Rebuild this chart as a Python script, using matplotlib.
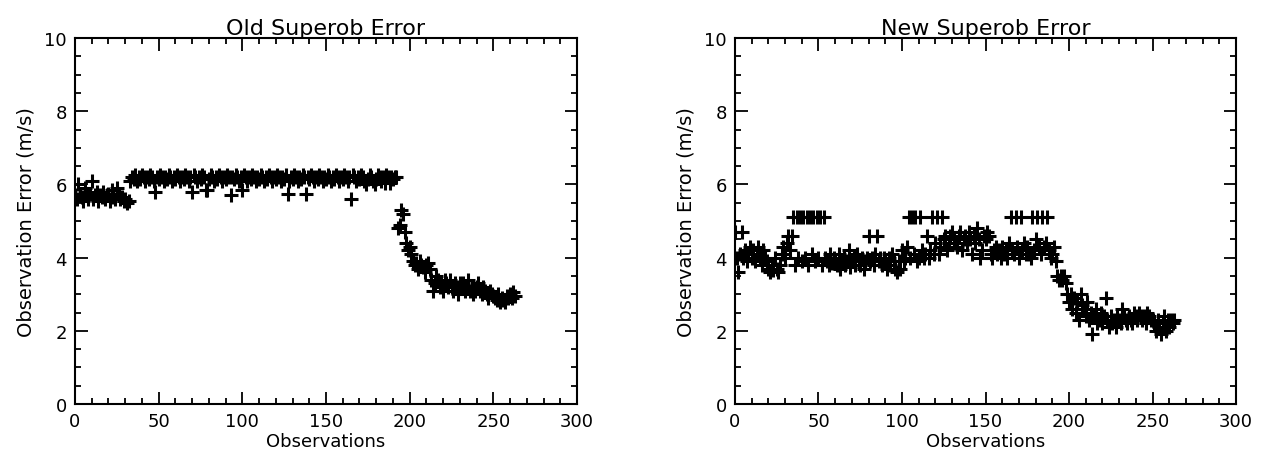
import numpy as np
import matplotlib
matplotlib.use("Agg")
import matplotlib.pyplot as plt
from matplotlib.ticker import MultipleLocator

titles = ["Old Superob Error", "New Superob Error"]
xlabel = "Observations"
ylabel = "Observation Error (m/s)"

old_err = [
    5.70, 5.60, 6.00, 5.75, 5.65, 5.55, 5.90, 5.70, 5.60, 5.75,
    6.10, 5.60, 5.70, 5.80, 5.55, 5.70, 5.65, 5.80, 5.60, 5.70,
    5.75, 5.55, 5.85, 5.65, 5.60, 5.90, 5.70, 5.60, 5.65, 5.55,
    5.60, 5.50, 5.55, 6.10, 6.20, 6.15, 6.25, 6.10, 6.20, 6.15,
    6.25, 6.20, 6.10, 6.20, 6.15, 6.25, 6.20, 6.10, 5.80, 6.20,
    6.15, 6.25, 6.20, 6.10, 6.20, 6.15, 6.25, 6.20, 6.10, 6.20,
    6.15, 6.25, 6.20, 6.10, 6.20, 6.15, 6.25, 6.20, 6.10, 6.20,
    5.80, 6.25, 6.20, 6.10, 6.20, 6.15, 6.25, 6.20, 5.85, 5.85,
    6.15, 6.25, 6.20, 6.10, 6.20, 6.15, 6.25, 6.20, 6.10, 6.20,
    6.15, 6.25, 6.20, 5.70, 6.20, 6.15, 6.25, 6.20, 6.10, 6.20,
    5.85, 6.25, 6.20, 6.10, 6.20, 6.15, 6.25, 6.20, 6.10, 6.20,
    6.15, 6.25, 6.20, 6.10, 6.20, 6.15, 6.25, 6.20, 6.10, 6.20,
    6.15, 6.25, 6.20, 6.10, 6.20, 6.15, 6.25, 5.75, 6.10, 6.20,
    6.15, 6.25, 6.20, 6.10, 6.20, 6.15, 6.25, 6.20, 5.75, 6.20,
    6.15, 6.25, 6.20, 6.10, 6.20, 6.15, 6.25, 6.20, 6.10, 6.20,
    6.15, 6.25, 6.20, 6.10, 6.20, 6.15, 6.25, 6.20, 6.10, 6.20,
    6.15, 6.25, 6.20, 6.10, 6.20, 5.60, 6.25, 6.20, 6.10, 6.20,
    6.15, 6.25, 6.20, 6.10, 6.00, 6.15, 6.25, 6.20, 6.10, 6.00,
    6.15, 6.25, 6.20, 6.10, 6.20, 6.05, 6.25, 6.20, 6.05, 6.20,
    6.15, 6.20, 6.20, 4.80, 4.90, 5.30, 5.20, 4.70, 4.40, 4.20,
    4.30, 4.10, 3.90, 3.80, 3.85, 3.70, 3.90, 3.80, 3.75, 3.60,
    3.80, 3.85, 3.70, 3.40, 3.10, 3.30, 3.50, 3.40, 3.20, 3.30,
    3.10, 3.40, 3.30, 3.20, 3.40, 3.20, 3.10, 3.30, 3.20, 3.00,
    3.30, 3.20, 3.30, 3.10, 3.20, 3.40, 3.10, 3.20, 3.00, 3.10,
    3.20, 3.30, 3.10, 3.00, 3.20, 3.10, 3.00, 2.90, 3.10, 3.00,
    2.95, 2.90, 2.85, 3.00, 2.80, 2.90, 2.85, 2.80, 2.95, 2.90,
    3.00, 2.90, 3.05, 2.95,
]

new_err = [
    4.70, 4.00, 3.60, 4.10, 4.70, 4.00, 4.20, 3.90, 4.10, 4.30,
    4.00, 4.20, 3.90, 4.10, 4.30, 4.00, 3.80, 4.20, 4.00, 3.90,
    3.70, 3.60, 3.80, 3.65, 4.00, 3.70, 3.60, 3.80, 4.10, 4.30,
    4.00, 4.40, 4.60, 4.20, 4.60, 5.10, 3.80, 5.10, 4.00, 5.10,
    3.90, 5.10, 4.00, 5.10, 3.80, 5.10, 4.10, 5.10, 3.90, 5.10,
    4.00, 5.10, 3.80, 5.10, 4.00, 3.90, 3.80, 4.10, 3.85, 4.00,
    3.90, 3.80, 4.10, 3.70, 3.90, 4.00, 3.80, 3.90, 4.20, 3.75,
    3.90, 4.00, 3.80, 4.10, 3.90, 3.80, 4.00, 3.70, 3.90, 4.00,
    4.60, 3.90, 4.00, 3.80, 4.10, 4.60, 3.90, 4.00, 3.80, 4.00,
    3.90, 3.70, 4.00, 3.80, 4.10, 3.90, 3.70, 3.60, 3.90, 3.70,
    4.20, 3.90, 4.00, 4.30, 5.10, 4.00, 5.10, 4.10, 5.10, 3.90,
    4.00, 5.10, 4.20, 4.00, 4.10, 4.60, 4.00, 4.20, 5.10, 4.10,
    4.40, 5.10, 4.10, 4.30, 5.10, 4.50, 4.60, 4.20, 4.40, 4.60,
    4.70, 4.50, 4.40, 4.30, 4.60, 4.70, 4.20, 4.50, 4.60, 4.40,
    4.70, 4.50, 4.10, 4.60, 4.40, 4.80, 4.50, 4.00, 4.20, 4.60,
    4.50, 4.70, 4.60, 4.10, 4.00, 4.20, 4.30, 4.10, 4.20, 4.00,
    4.30, 4.10, 4.20, 4.00, 4.40, 5.10, 4.20, 4.10, 5.10, 4.30,
    4.00, 5.10, 4.20, 4.40, 4.10, 4.30, 4.10, 4.00, 5.10, 4.20,
    4.50, 5.10, 4.30, 4.10, 5.10, 4.30, 4.40, 5.10, 4.20, 4.00,
    4.10, 4.30, 3.90, 3.50, 3.40, 3.50, 3.40, 3.50, 3.30, 3.00,
    2.80, 3.00, 2.60, 2.90, 2.50, 2.80, 2.30, 3.00, 2.70, 2.60,
    2.40, 2.80, 2.30, 2.50, 1.90, 2.40, 2.60, 2.20, 2.30, 2.50,
    2.20, 2.40, 2.90, 2.30, 2.10, 2.40, 2.20, 2.30, 2.10, 2.40,
    2.30, 2.20, 2.60, 2.40, 2.30, 2.20, 2.40, 2.30, 2.20, 2.50,
    2.40, 2.30, 2.50, 2.40, 2.30, 2.40, 2.20, 2.50, 2.40, 2.30,
    2.30, 2.20, 2.00, 2.30, 2.10, 1.90, 2.20, 2.40, 2.00, 2.30,
    2.10, 2.30, 2.20, 2.30,
]

series = [old_err, new_err]

fig = plt.figure(figsize=(12.68, 4.60), dpi=100)
plt.rcParams['font.family'] = ['DejaVu Sans']
rects = [[75/1268, 55/460, 502/1268, 366/460],
         [735/1268, 55/460, 501/1268, 366/460]]

for rect, title, vals in zip(rects, titles, series):
    ax = fig.add_axes(rect)
    obs = np.arange(len(vals))
    ax.plot(obs, vals, linestyle='none', marker='+', markersize=10,
            markeredgewidth=2.2, color='black')
    ax.set_xlim(0, 300)
    ax.set_ylim(0, 10)
    ax.xaxis.set_major_locator(MultipleLocator(50))
    ax.xaxis.set_minor_locator(MultipleLocator(10))
    ax.yaxis.set_major_locator(MultipleLocator(2))
    ax.yaxis.set_minor_locator(MultipleLocator(0.5))
    ax.tick_params(which='both', direction='in', top=True, right=True,
                   width=1.3, labelsize=13, colors='black')
    ax.tick_params(which='major', length=9, pad=6)
    ax.tick_params(which='minor', length=4.5)
    for s in ax.spines.values():
        s.set_linewidth(1.5)
    ax.set_title(title, fontsize=16, pad=3)
    ax.set_xlabel(xlabel, fontsize=13, labelpad=1)
    ax.set_ylabel(ylabel, fontsize=14, labelpad=6)

fig.savefig("out.png", dpi=100, facecolor='white')
